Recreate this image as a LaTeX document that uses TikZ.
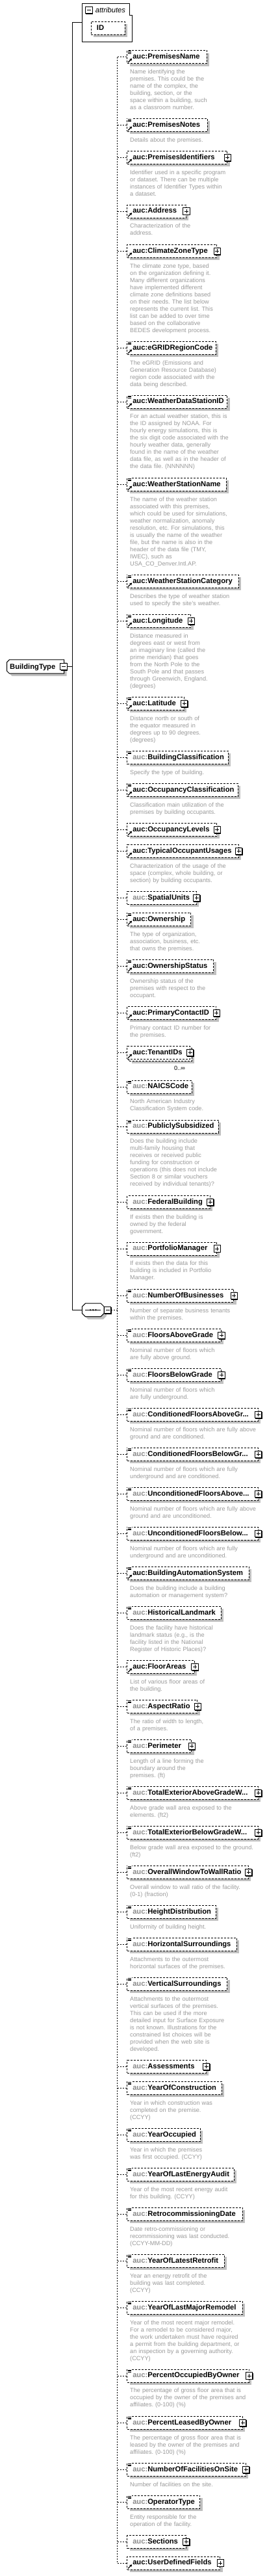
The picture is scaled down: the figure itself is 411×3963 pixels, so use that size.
\documentclass[tikz,border=0pt]{standalone}
\usepackage{fontspec}
\setmainfont{Liberation Sans}
\usepackage{xcolor}
\usepackage{tikz}
\usetikzlibrary{arrows.meta,shadows}
\definecolor{shadowgray}{HTML}{C0C0C0}
\definecolor{notegray}{HTML}{9A9A9A}
\definecolor{prefix}{HTML}{8C8C8C}
\newcommand{\auc}{{\color{prefix}auc:}}
\frenchspacing
\tikzset{
  hull/.style={inner sep=0pt},
  wire/.style={line width=1pt},
  link/.style={line width=0.9pt, dash pattern=on 2pt off 2pt},
  shadowed/.style={drop shadow={shadow xshift=4pt, shadow yshift=-4pt, opacity=1, fill=shadowgray}},
  elbase/.style={draw, line width=0.9pt, dash pattern=on 3pt off 2pt, fill=white, anchor=west, minimum height=20pt, inner xsep=8.5pt, inner ysep=0pt, align=left, text height=8.3pt, text depth=2.7pt, font=\fontsize{11.2}{13}\selectfont\bfseries},
  el/.style={elbase, shadowed},
  title/.style={anchor=base west, inner sep=0pt, font=\fontsize{11.2}{13}\selectfont\bfseries},
  desc/.style={anchor=base west, inner sep=0pt, text width=215pt, align=left, text=notegray, font=\fontsize{9.15}{11}\selectfont},
  mult/.style={anchor=base, inner sep=0pt, font=\fontsize{9.15}{11}\selectfont},
  togglebox/.style={draw, solid, line width=0.9pt, fill=white, minimum size=10.5pt, inner sep=0pt, anchor=center, drop shadow={shadow xshift=1pt, shadow yshift=-1pt, opacity=1, fill=black}},
  plusbox/.style={togglebox, path picture={\draw[line width=0.8pt] ([xshift=2.2pt]path picture bounding box.west) -- ([xshift=-2.2pt]path picture bounding box.east) ([yshift=-2.2pt]path picture bounding box.north) -- ([yshift=2.2pt]path picture bounding box.south);}},
  minusbox/.style={togglebox, path picture={\draw[line width=0.8pt] ([xshift=2.2pt]path picture bounding box.west) -- ([xshift=-2.2pt]path picture bounding box.east);}},
  docmark/.style={anchor=north west, inner sep=0pt, minimum width=7pt, minimum height=5.6pt, fill=white, xshift=0.5pt, yshift=-0.2pt, path picture={\foreach \k in {1,2.7,4.4} \draw[line width=0.7pt] ([xshift=0.5pt, yshift=-\k pt]path picture bounding box.north west) -- ++(5.5,0);}},
  refmark/.style={anchor=south west, inner sep=0pt, minimum size=7pt, fill=white, xshift=1pt, yshift=1.3pt, path picture={\draw[line width=1.3pt, -{Stealth[length=3.8pt, width=4.4pt]}] ([xshift=0.6pt, yshift=0.6pt]path picture bounding box.south west) -- ([xshift=-0.3pt, yshift=-0.3pt]path picture bounding box.north east);}},
  doc/.style={label={[docmark]north west:{}}},
  ref/.style={label={[refmark]south west:{}}},
  more/.style={label={[plusbox]east:{}}}
}

\begin{document}
\begin{tikzpicture}[x=1pt, y=-1pt]
\path[use as bounding box, fill=white] (0,0) rectangle (411,3963);
\coordinate (spine) at (111,0);
\coordinate (bus) at (180.7,0);

\node[hull, minimum width=76.6pt, minimum height=59pt] (attrs) at (165,34.8) {};
\draw[wire, fill=white] (attrs.north west) -- ([xshift=-4pt]attrs.north east) -- ([xshift=-4pt, yshift=-18.7pt]attrs.north east) -- ([yshift=-18.7pt]attrs.north east) -- (attrs.south east) -- (attrs.south west) -- cycle;
\node[minusbox] (attrsminus) at (136.7,15.5) {};
\node[title, font=\fontsize{11.2}{13}\selectfont\itshape] (attrslabel) at (146.7,19.2) {attributes};
\node[el, text width=35pt] (idattr) at (140,43.3) {ID};

\node[hull, minimum width=87.6pt, minimum height=21pt] (btype) at (54.5,1025.5) {};
\draw[wire, fill=white, shadowed] ([xshift=4pt]btype.north west) -- (btype.north east) -- (btype.south east) -- ([xshift=4pt]btype.south west) -- ([yshift=4pt]btype.south west) -- ([yshift=-4pt]btype.north west) -- cycle;
\node[title] (btypename) at (15,1029) {BuildingType};
\node[minusbox] (btminus) at (98,1025.3) {};

\node[hull, minimum width=33.3pt, minimum height=20pt] (seq) at (143.3,2015.3) {};
\draw[wire, fill=white, shadowed] ([xshift=5pt]seq.north west) -- ([xshift=-5pt]seq.north east) -- ([yshift=-5pt]seq.north east) -- ([yshift=5pt]seq.south east) -- ([xshift=-5pt]seq.south east) -- ([xshift=5pt]seq.south west) -- ([yshift=5pt]seq.south west) -- ([yshift=-5pt]seq.north west) -- cycle;
\draw[wire] ([xshift=4.5pt]seq.west) -- ([xshift=-5pt]seq.east);
\foreach \dx in {-4.2,0,4.2} \fill ([xshift=\dx pt]seq.center) circle (1.4pt);
\node[minusbox] (seqminus) at (165.6,2015.5) {};

\draw[wire] (btminus.east) -- (btminus.east -| spine);
\draw[wire] (attrs.west) -- (attrs.west -| spine) -- (seq.west -| spine) -- (seq.west);
\draw[link] (seqminus.east) -- (seqminus.east -| bus);

\node[el, doc, ref, text width=105.4pt] (pname) at (195.3,87.7) {auc:PremisesName};
\node[desc] (pnamed) at ([shift={(4.7,15.5)}]pname.south west) {Name identifying the\\premises. This could be the\\name of the complex, the\\building, section, or the\\space within a building, such\\as a classroom number.};
\node[el, doc, ref, text width=106.7pt] (pnotes) at (195.3,192.3) {auc:PremisesNotes};
\node[desc] (pnotesd) at ([shift={(4.7,15.5)}]pnotes.south west) {Details about the premises.};
\node[el, ref, more, text width=137pt] (pids) at (195.3,242.3) {auc:PremisesIdentifiers};
\node[desc] (pidsd) at ([shift={(4.7,15.5)}]pids.south west) {Identifier used in a specific program\\or dataset. There can be multiple\\instances of Identifier Types within\\a dataset.};
\node[el, ref, more, text width=73.7pt] (addr) at (195.3,325) {auc:Address};
\node[desc] (addrd) at ([shift={(4.7,15.5)}]addr.south west) {Characterization of the\\address.};
\node[el, ref, more, text width=121pt] (climate) at (195.3,386.3) {auc:ClimateZoneType};
\node[desc] (climated) at ([shift={(4.7,15.5)}]climate.south west) {The climate zone type, based\\on the organization defining it.\\Many different organizations\\have implemented different\\climate zone definitions based\\on their needs. The list below\\represents the current list. This\\list can be added to over time\\based on the collaborative\\BEDES development process.};
\node[el, doc, ref, text width=119.4pt] (egrid) at (195.3,535.3) {auc:eGRIDRegionCode};
\node[desc] (egridd) at ([shift={(4.7,15.5)}]egrid.south west) {The eGRID (Emissions and\\Generation Resource Database)\\region code associated with the\\data being described.};
\node[el, doc, ref, text width=137pt] (wdsid) at (195.3,618) {auc:WeatherDataStationID};
\node[desc] (wdsidd) at ([shift={(4.7,15.5)}]wdsid.south west) {For an actual weather station, this is\\the ID assigned by NOAA. For\\hourly energy simulations, this is\\the six digit code associated with the\\hourly weather data, generally\\found in the name of the weather\\data file, as well as in the header of\\the data file. (NNNNNN)};
\node[el, doc, ref, text width=135.4pt] (wsname) at (195.3,745.3) {auc:WeatherStationName};
\node[desc] (wsnamed) at ([shift={(4.7,15.5)}]wsname.south west) {The name of the weather station\\associated with this premises,\\which could be used for simulations,\\weather normalization, anomaly\\resolution, etc. For simulations, this\\is usually the name of the weather\\file, but the name is also in the\\header of the data file (TMY,\\IWEC), such as\\USA\_CO\_Denver.Intl.AP.};
\node[el, doc, ref, text width=154.4pt] (wscat) at (195.3,894.3) {auc:WeatherStationCategory};
\node[desc] (wscatd) at ([shift={(4.7,15.5)}]wscat.south west) {Describes the type of weather station\\used to specify the site's weather.};
\node[el, doc, ref, more, text width=81pt] (lon) at (195.3,955.3) {auc:Longitude};
\node[desc] (lond) at ([shift={(4.7,15.5)}]lon.south west) {Distance measured in\\degrees east or west from\\an imaginary line (called the\\prime meridian) that goes\\from the North Pole to the\\South Pole and that passes\\through Greenwich, England.\\(degrees)};
\node[el, doc, ref, more, text width=70.4pt] (lat) at (195.3,1082.3) {auc:Latitude};
\node[desc] (latd) at ([shift={(4.7,15.5)}]lat.south west) {Distance north or south of\\the equator measured in\\degrees up to 90 degrees.\\(degrees)};
\node[el, doc, text width=138.4pt] (bclass) at (195.3,1165.3) {\auc BuildingClassification};
\node[desc] (bclassd) at ([shift={(4.7,15.5)}]bclass.south west) {Specify the type of building.};
\node[el, doc, ref, text width=153.4pt] (occclass) at (195.3,1215.3) {auc:OccupancyClassification};
\node[desc] (occclassd) at ([shift={(4.7,15.5)}]occclass.south west) {Classification main utilization of the\\premises by building occupants.};
\node[el, ref, more, text width=121pt] (occlev) at (195.3,1276.3) {auc:OccupancyLevels};
\node[el, ref, more, text width=154.4pt] (usages) at (195.3,1309.3) {auc:TypicalOccupantUsages};
\node[desc] (usagesd) at ([shift={(4.7,15.5)}]usages.south west) {Characterization of the usage of the\\space (complex, whole building, or\\section) by building occupants.};
\node[el, more, text width=89.4pt] (spatial) at (195.3,1381.3) {\auc SpatialUnits};
\node[el, doc, ref, text width=81pt] (owner) at (195.3,1414.3) {auc:Ownership};
\node[desc] (ownerd) at ([shift={(4.7,15.5)}]owner.south west) {The type of organization,\\association, business, etc.\\that owns the premises.};
\node[el, doc, ref, text width=116pt] (ostatus) at (195.3,1486.3) {auc:OwnershipStatus};
\node[desc] (ostatusd) at ([shift={(4.7,15.5)}]ostatus.south west) {Ownership status of the\\premises with respect to the\\occupant.};
\node[el, ref, more, text width=120pt] (contact) at (195.3,1558.3) {auc:PrimaryContactID};
\node[desc] (contactd) at ([shift={(4.7,15.5)}]contact.south west) {Primary contact ID number for\\the premises.};
\node[el, text width=79.4pt] (tenantsback) at (198.3,1622.3) {};
\node[elbase, ref, more, text width=79.4pt] (tenants) at (195.3,1619.3) {auc:TenantIDs};
\node[mult] (tenantsmult) at (276.5,1646) {0..∞};
\node[el, doc, text width=82.7pt] (naics) at (195.3,1672) {\auc NAICSCode};
\node[desc] (naicsd) at ([shift={(4.7,15.5)}]naics.south west) {North American Industry\\Classification System code.};
\node[el, doc, text width=123.4pt] (subsid) at (195.3,1733) {\auc PubliclySubsidized};
\node[desc] (subsidd) at ([shift={(4.7,15.5)}]subsid.south west) {Does the building include\\multi-family housing that\\receives or received public\\funding for construction or\\operations (this does not include\\Section 8 or similar vouchers\\received by individual tenants)?};
\node[el, more, text width=110.4pt] (federal) at (195.3,1849.3) {\auc FederalBuilding};
\node[desc] (federald) at ([shift={(4.7,15.5)}]federal.south west) {If exists then the building is\\owned by the federal\\government.};
\node[el, more, text width=121pt] (portfolio) at (195.3,1921) {\auc PortfolioManager};
\node[desc] (portfoliod) at ([shift={(4.7,15.5)}]portfolio.south west) {If exists then the data for this\\building is included in Portfolio\\Manager.};
\node[el, doc, more, text width=147pt] (nbus) at (195.3,1993.3) {\auc NumberOfBusinesses};
\node[desc] (nbusd) at ([shift={(4.7,15.5)}]nbus.south west) {Number of separate business tenants\\within the premises.};
\node[el, doc, more, text width=127.7pt] (fag) at (195.3,2054.3) {\auc FloorsAboveGrade};
\node[desc] (fagd) at ([shift={(4.7,15.5)}]fag.south west) {Nominal number of floors which\\are fully above ground.};
\node[el, doc, more, text width=127.7pt] (fbg) at (195.3,2115.3) {\auc FloorsBelowGrade};
\node[desc] (fbgd) at ([shift={(4.7,15.5)}]fbg.south west) {Nominal number of floors which\\are fully underground.};
\node[el, doc, more, text width=184.4pt] (cfag) at (195.3,2176.3) {\auc ConditionedFloorsAboveGr...};
\node[desc] (cfagd) at ([shift={(4.7,15.5)}]cfag.south west) {Nominal number of floors which are fully above\\ground and are conditioned.};
\node[el, doc, more, text width=184.4pt] (cfbg) at (195.3,2237.3) {\auc ConditionedFloorsBelowGr...};
\node[desc] (cfbgd) at ([shift={(4.7,15.5)}]cfbg.south west) {Nominal number of floors which are fully\\underground and are conditioned.};
\node[el, doc, more, text width=184.4pt] (ufag) at (195.3,2298.3) {\auc UnconditionedFloorsAbove...};
\node[desc] (ufagd) at ([shift={(4.7,15.5)}]ufag.south west) {Nominal number of floors which are fully above\\ground and are unconditioned.};
\node[el, doc, more, text width=184.4pt] (ufbg) at (195.3,2359.3) {\auc UnconditionedFloorsBelow...};
\node[desc] (ufbgd) at ([shift={(4.7,15.5)}]ufbg.south west) {Nominal number of floors which are fully\\underground and are unconditioned.};
\node[el, doc, ref, text width=170.4pt] (bas) at (195.3,2420.3) {auc:BuildingAutomationSystem};
\node[desc] (basd) at ([shift={(4.7,15.5)}]bas.south west) {Does the building include a building\\automation or management system?};
\node[el, doc, text width=127.7pt] (hist) at (195.3,2481.3) {\auc HistoricalLandmark};
\node[desc] (histd) at ([shift={(4.7,15.5)}]hist.south west) {Does the facility have historical\\landmark status (e.g., is the\\facility listed in the National\\Register of Historic Places)?};
\node[el, ref, more, text width=86.7pt] (fareas) at (195.3,2564.3) {auc:FloorAreas};
\node[desc] (fareasd) at ([shift={(4.7,15.5)}]fareas.south west) {List of various floor areas of\\the building.};
\node[el, doc, more, text width=91pt] (aspect) at (195.3,2625.3) {\auc AspectRatio};
\node[desc] (aspectd) at ([shift={(4.7,15.5)}]aspect.south west) {The ratio of width to length,\\of a premises.};
\node[el, doc, more, text width=82pt] (perim) at (195.3,2686.3) {\auc Perimeter};
\node[desc] (perimd) at ([shift={(4.7,15.5)}]perim.south west) {Length of a line forming the\\boundary around the\\premises. (ft)};
\node[el, doc, more, text width=184.4pt] (teag) at (195.3,2758.3) {\auc TotalExteriorAboveGradeW...};
\node[desc] (teagd) at ([shift={(4.7,15.5)}]teag.south west) {Above grade wall area exposed to the\\elements. (ft2)};
\node[el, doc, more, text width=184.4pt] (tebg) at (195.3,2819.3) {\auc TotalExteriorBelowGradeW...};
\node[desc] (tebgd) at ([shift={(4.7,15.5)}]tebg.south west) {Below grade wall area exposed to the ground.\\(ft2)};
\node[el, doc, more, text width=169.4pt] (wwr) at (195.3,2880.3) {\auc OverallWindowToWallRatio};
\node[desc] (wwrd) at ([shift={(4.7,15.5)}]wwr.south west) {Overall window to wall ratio of the facility.\\(0-1) (fraction)};
\node[el, doc, text width=119.4pt] (hdist) at (195.3,2941.3) {\auc HeightDistribution};
\node[desc] (hdistd) at ([shift={(4.7,15.5)}]hdist.south west) {Uniformity of building height.};
\node[el, doc, text width=151.7pt] (hsurr) at (195.3,2991.3) {\auc HorizontalSurroundings};
\node[desc] (hsurrd) at ([shift={(4.7,15.5)}]hsurr.south west) {Attachments to the outermost\\horizontal surfaces of the premises.};
\node[el, doc, text width=137pt] (vsurr) at (195.3,3052.3) {\auc VerticalSurroundings};
\node[desc] (vsurrd) at ([shift={(4.7,15.5)}]vsurr.south west) {Attachments to the outermost\\vertical surfaces of the premises.\\This can be used if the more\\detailed input for Surface Exposure\\is not known. Illustrations for the\\constrained list choices will be\\provided when the web site is\\developed.};
\node[el, more, text width=104.4pt] (assess) at (195.3,3179.3) {\auc Assessments};
\node[el, doc, text width=128.4pt] (yconst) at (195.3,3212.3) {\auc YearOfConstruction};
\node[desc] (yconstd) at ([shift={(4.7,15.5)}]yconst.south west) {Year in which construction was\\completed on the premise.\\(CCYY)};
\node[el, doc, text width=95.4pt] (yocc) at (195.3,3284.3) {\auc YearOccupied};
\node[desc] (yoccd) at ([shift={(4.7,15.5)}]yocc.south west) {Year in which the premises\\was first occupied. (CCYY)};
\node[el, doc, text width=147.7pt] (yaudit) at (195.3,3345.3) {\auc YearOfLastEnergyAudit};
\node[desc] (yauditd) at ([shift={(4.7,15.5)}]yaudit.south west) {Year of the most recent energy audit\\for this building. (CCYY)};
\node[el, doc, text width=160.4pt] (retro) at (195.3,3406.3) {\auc RetrocommissioningDate};
\node[desc] (retrod) at ([shift={(4.7,15.5)}]retro.south west) {Date retro-commissioning or\\recommissioning was last conducted.\\(CCYY-MM-DD)};
\node[el, doc, text width=132.7pt] (yretro) at (195.3,3478.3) {\auc YearOfLatestRetrofit};
\node[desc] (yretrod) at ([shift={(4.7,15.5)}]yretro.south west) {Year an energy retrofit of the\\building was last completed.\\(CCYY)};
\node[el, doc, text width=160.4pt] (yremodel) at (195.3,3550.3) {\auc YearOfLastMajorRemodel};
\node[desc] (yremodeld) at ([shift={(4.7,15.5)}]yremodel.south west) {Year of the most recent major remodel.\\For a remodel to be considered major,\\the work undertaken must have required\\a permit from the building department, or\\an inspection by a governing authority.\\(CCYY)};
\node[el, doc, more, text width=170.4pt] (pcocc) at (195.3,3655) {\auc PercentOccupiedByOwner};
\node[desc] (pcoccd) at ([shift={(4.7,15.5)}]pcocc.south west) {The percentage of gross floor area that is\\occupied by the owner of the premises and\\affiliates. (0-100) (\%)};
\node[el, doc, more, text width=160.4pt] (pclease) at (195.3,3727.3) {\auc PercentLeasedByOwner};
\node[desc] (pcleased) at ([shift={(4.7,15.5)}]pclease.south west) {The percentage of gross floor area that is\\leased by the owner of the premises and\\affiliates. (0-100) (\%)};
\node[el, doc, more, text width=165.4pt] (nfac) at (195.3,3799.3) {\auc NumberOfFacilitiesOnSite};
\node[desc] (nfacd) at ([shift={(4.7,15.5)}]nfac.south west) {Number of facilities on the site.};
\node[el, doc, text width=95pt] (optype) at (195.3,3849.3) {\auc OperatorType};
\node[desc] (optyped) at ([shift={(4.7,15.5)}]optype.south west) {Entity responsible for the\\operation of the facility.};
\node[el, more, text width=73.4pt] (sections) at (195.3,3910.3) {\auc Sections};
\node[el, ref, more, text width=126pt] (udf) at (195.3,3943) {auc:UserDefinedFields};

\draw[link] (bus |- pname.west) -- (bus |- udf.west);
\foreach \e in {pname,pnotes,pids,addr,climate,egrid,wdsid,wsname,wscat,lon,lat,bclass,occclass,occlev,usages,spatial,owner,ostatus,contact,tenants,naics,subsid,federal,portfolio,nbus,fag,fbg,cfag,cfbg,ufag,ufbg,bas,hist,fareas,aspect,perim,teag,tebg,wwr,hdist,hsurr,vsurr,assess,yconst,yocc,yaudit,retro,yretro,yremodel,pcocc,pclease,nfac,optype,sections,udf}
  \draw[link] (\e.west -| bus) -- (\e.west);
\end{tikzpicture}
\end{document}
